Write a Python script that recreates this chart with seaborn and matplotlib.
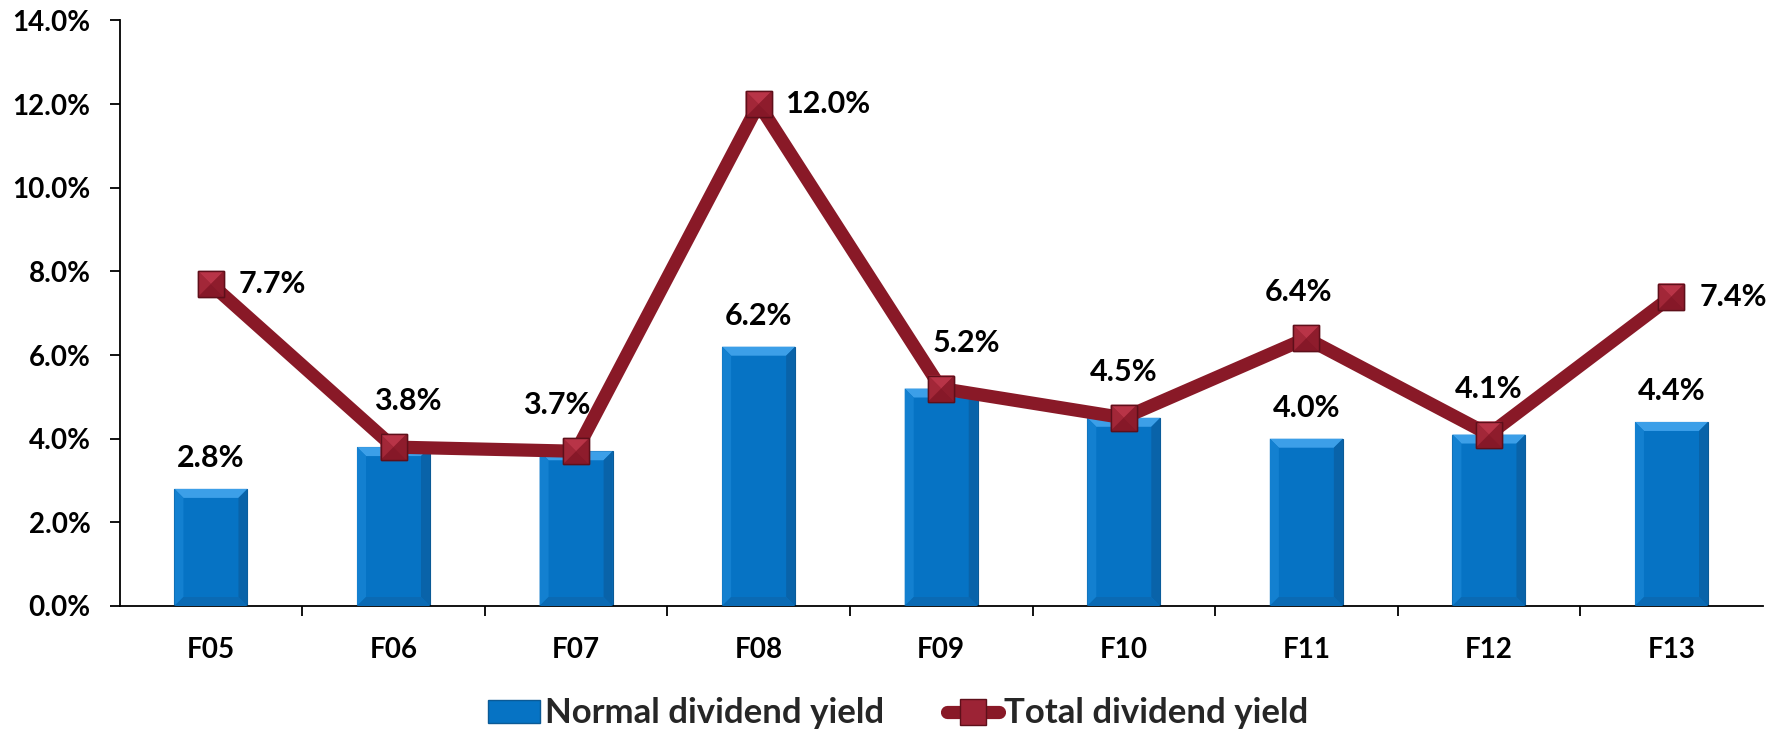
import matplotlib
matplotlib.use("Agg")
import matplotlib.pyplot as plt
from matplotlib.patches import Polygon, Patch
from matplotlib.lines import Line2D
import seaborn as sns
import pandas as pd

# Dividend yield by fiscal year
years = ["F05", "F06", "F07", "F08", "F09", "F10", "F11", "F12", "F13"]
normal_yield = [2.8, 3.8, 3.7, 6.2, 5.2, 4.5, 4.0, 4.1, 4.4]
total_yield = [7.7, 3.8, 3.7, 12.0, 5.2, 4.5, 6.4, 4.1, 7.4]

BAR_BLUE = "#0673C4"
LINE_RED = "#891927"
MARKER_RED = "#9C2335"
LABEL_FONT = "Lato"

# label placement for the total-yield points: side, horizontal nudge (pt)
total_label_side = ["right", "above", "above", "right", "above",
                    "above", "above", "above", "right"]
total_label_dx = [0, 10, -14, 0, 18, 0, -6, 0, 0]

sns.set_theme(style="white")
plt.rcParams["font.family"] = [LABEL_FONT, "DejaVu Sans"]
plt.rcParams["font.weight"] = "bold"

df = pd.DataFrame({"year": years,
                   "normal": [v / 100 for v in normal_yield],
                   "total": [v / 100 for v in total_yield]})

fig = plt.figure(figsize=(17.86, 7.31), dpi=100)
ax = fig.add_axes([0.067, 0.171, 0.92, 0.801])

sns.barplot(data=df, x="year", y="normal", color=BAR_BLUE, width=0.4,
            saturation=1, edgecolor="#0B5A96", linewidth=0.8, ax=ax, zorder=2)
sns.lineplot(data=df, x="year", y="total", sort=False, color=LINE_RED,
             linewidth=9.5, marker="s", markersize=19,
             markerfacecolor=MARKER_RED, markeredgecolor="#5E0F1A",
             markeredgewidth=1.0, ax=ax, zorder=4)

ax.set_xlim(-0.5, len(years) - 0.5)
ax.set_ylim(0, 0.14)
ax.set_yticks([i / 100 for i in range(0, 15, 2)])
ax.yaxis.set_major_formatter(matplotlib.ticker.FuncFormatter(lambda v, p: f"{v*100:.1f}%"))
ax.set_xlabel("")
ax.set_ylabel("")

ax.set_xticks([i + 0.5 for i in range(len(years) - 1)], minor=True)
ax.set_xticks(range(len(years)), labels=years)
ax.tick_params(axis="y", which="major", direction="out", length=7, width=1.3,
               color="black", left=True, pad=14, labelsize=20, labelcolor="black")
ax.tick_params(axis="x", which="major", length=0, pad=22, labelsize=20,
               labelcolor="black")
ax.tick_params(axis="x", which="minor", direction="out", length=7, width=1.3,
               color="black", bottom=True)
for lab in ax.get_xticklabels() + ax.get_yticklabels():
    lab.set_fontweight("bold")

for side in ["top", "right"]:
    ax.spines[side].set_visible(False)
for side in ["left", "bottom"]:
    ax.spines[side].set_color("black")
    ax.spines[side].set_linewidth(1.3)
ax.grid(False)
if ax.get_legend():
    ax.get_legend().remove()

label_kw = dict(fontweight="bold", fontsize=22, color="black",
                textcoords="offset points")

for i, (nv, tv) in enumerate(zip(normal_yield, total_yield)):
    side, dx = total_label_side[i], total_label_dx[i]
    if side == "right":
        ax.annotate(f"{tv:.1f}%", (i, tv / 100), xytext=(20, 0),
                    ha="left", va="center", **label_kw)
    else:
        ax.annotate(f"{tv:.1f}%", (i, tv / 100), xytext=(dx, 33),
                    ha="center", va="center", **label_kw)
    if nv != tv:
        ax.annotate(f"{nv:.1f}%", (i, nv / 100), xytext=(0, 22),
                    ha="center", va="center", **label_kw)

# bevelled faces on bars and markers, laid out in pixel space
fig.canvas.draw()
to_data = ax.transData.inverted()


def add_face(pts, col, z):
    ax.add_patch(Polygon(to_data.transform(pts), closed=True, facecolor=col,
                         edgecolor="none", zorder=z))


bev = 9
for bar in list(ax.patches):
    bb = bar.get_window_extent()
    x0, y0, x1, y1 = bb.x0, bb.y0, bb.x1, bb.y1
    b = min(bev, (x1 - x0) / 3, (y1 - y0) / 3)
    add_face([(x0, y1), (x1, y1), (x1 - b, y1 - b), (x0 + b, y1 - b)], "#3C9FE8", 3)
    add_face([(x0, y0), (x0, y1), (x0 + b, y1 - b), (x0 + b, y0 + b)], "#1380D0", 3)
    add_face([(x1, y0), (x1, y1), (x1 - b, y1 - b), (x1 - b, y0 + b)], "#0963A9", 3)
    add_face([(x0, y0), (x1, y0), (x1 - b, y0 + b), (x0 + b, y0 + b)], "#0A6AB4", 3)

half = 13
for i, tv in enumerate(total_yield):
    cx, cy = ax.transData.transform((i, tv / 100))
    x0, x1, y0, y1 = cx - half, cx + half, cy - half, cy + half
    add_face([(x0, y1), (x1, y1), (cx, cy)], "#B83447", 5)
    add_face([(x0, y0), (x0, y1), (cx, cy)], "#A22738", 5)
    add_face([(x1, y0), (x1, y1), (cx, cy)], "#8E1C2C", 5)
    add_face([(x0, y0), (x1, y0), (cx, cy)], "#861828", 5)
    ax.add_patch(Polygon(to_data.transform([(x0, y0), (x1, y0), (x1, y1), (x0, y1)]),
                         closed=True, facecolor="none", edgecolor="#5E0F1A",
                         linewidth=1.0, zorder=5.5))

handles = [
    Patch(facecolor=BAR_BLUE, edgecolor="#0B5A96", label="Normal dividend yield"),
    Line2D([0], [0], color=LINE_RED, linewidth=9.5, marker="s", markersize=19,
           markerfacecolor=MARKER_RED, markeredgecolor="#5E0F1A",
           label="Total dividend yield", solid_capstyle="round"),
]
fig.legend(handles=handles, loc="center", bbox_to_anchor=(0.503, 0.024), ncol=2,
           frameon=False, prop={"family": LABEL_FONT, "weight": "bold", "size": 25},
           handlelength=1.5, handleheight=0.65, handletextpad=0.15, columnspacing=1.8)

fig.savefig("out.png", dpi=100)
